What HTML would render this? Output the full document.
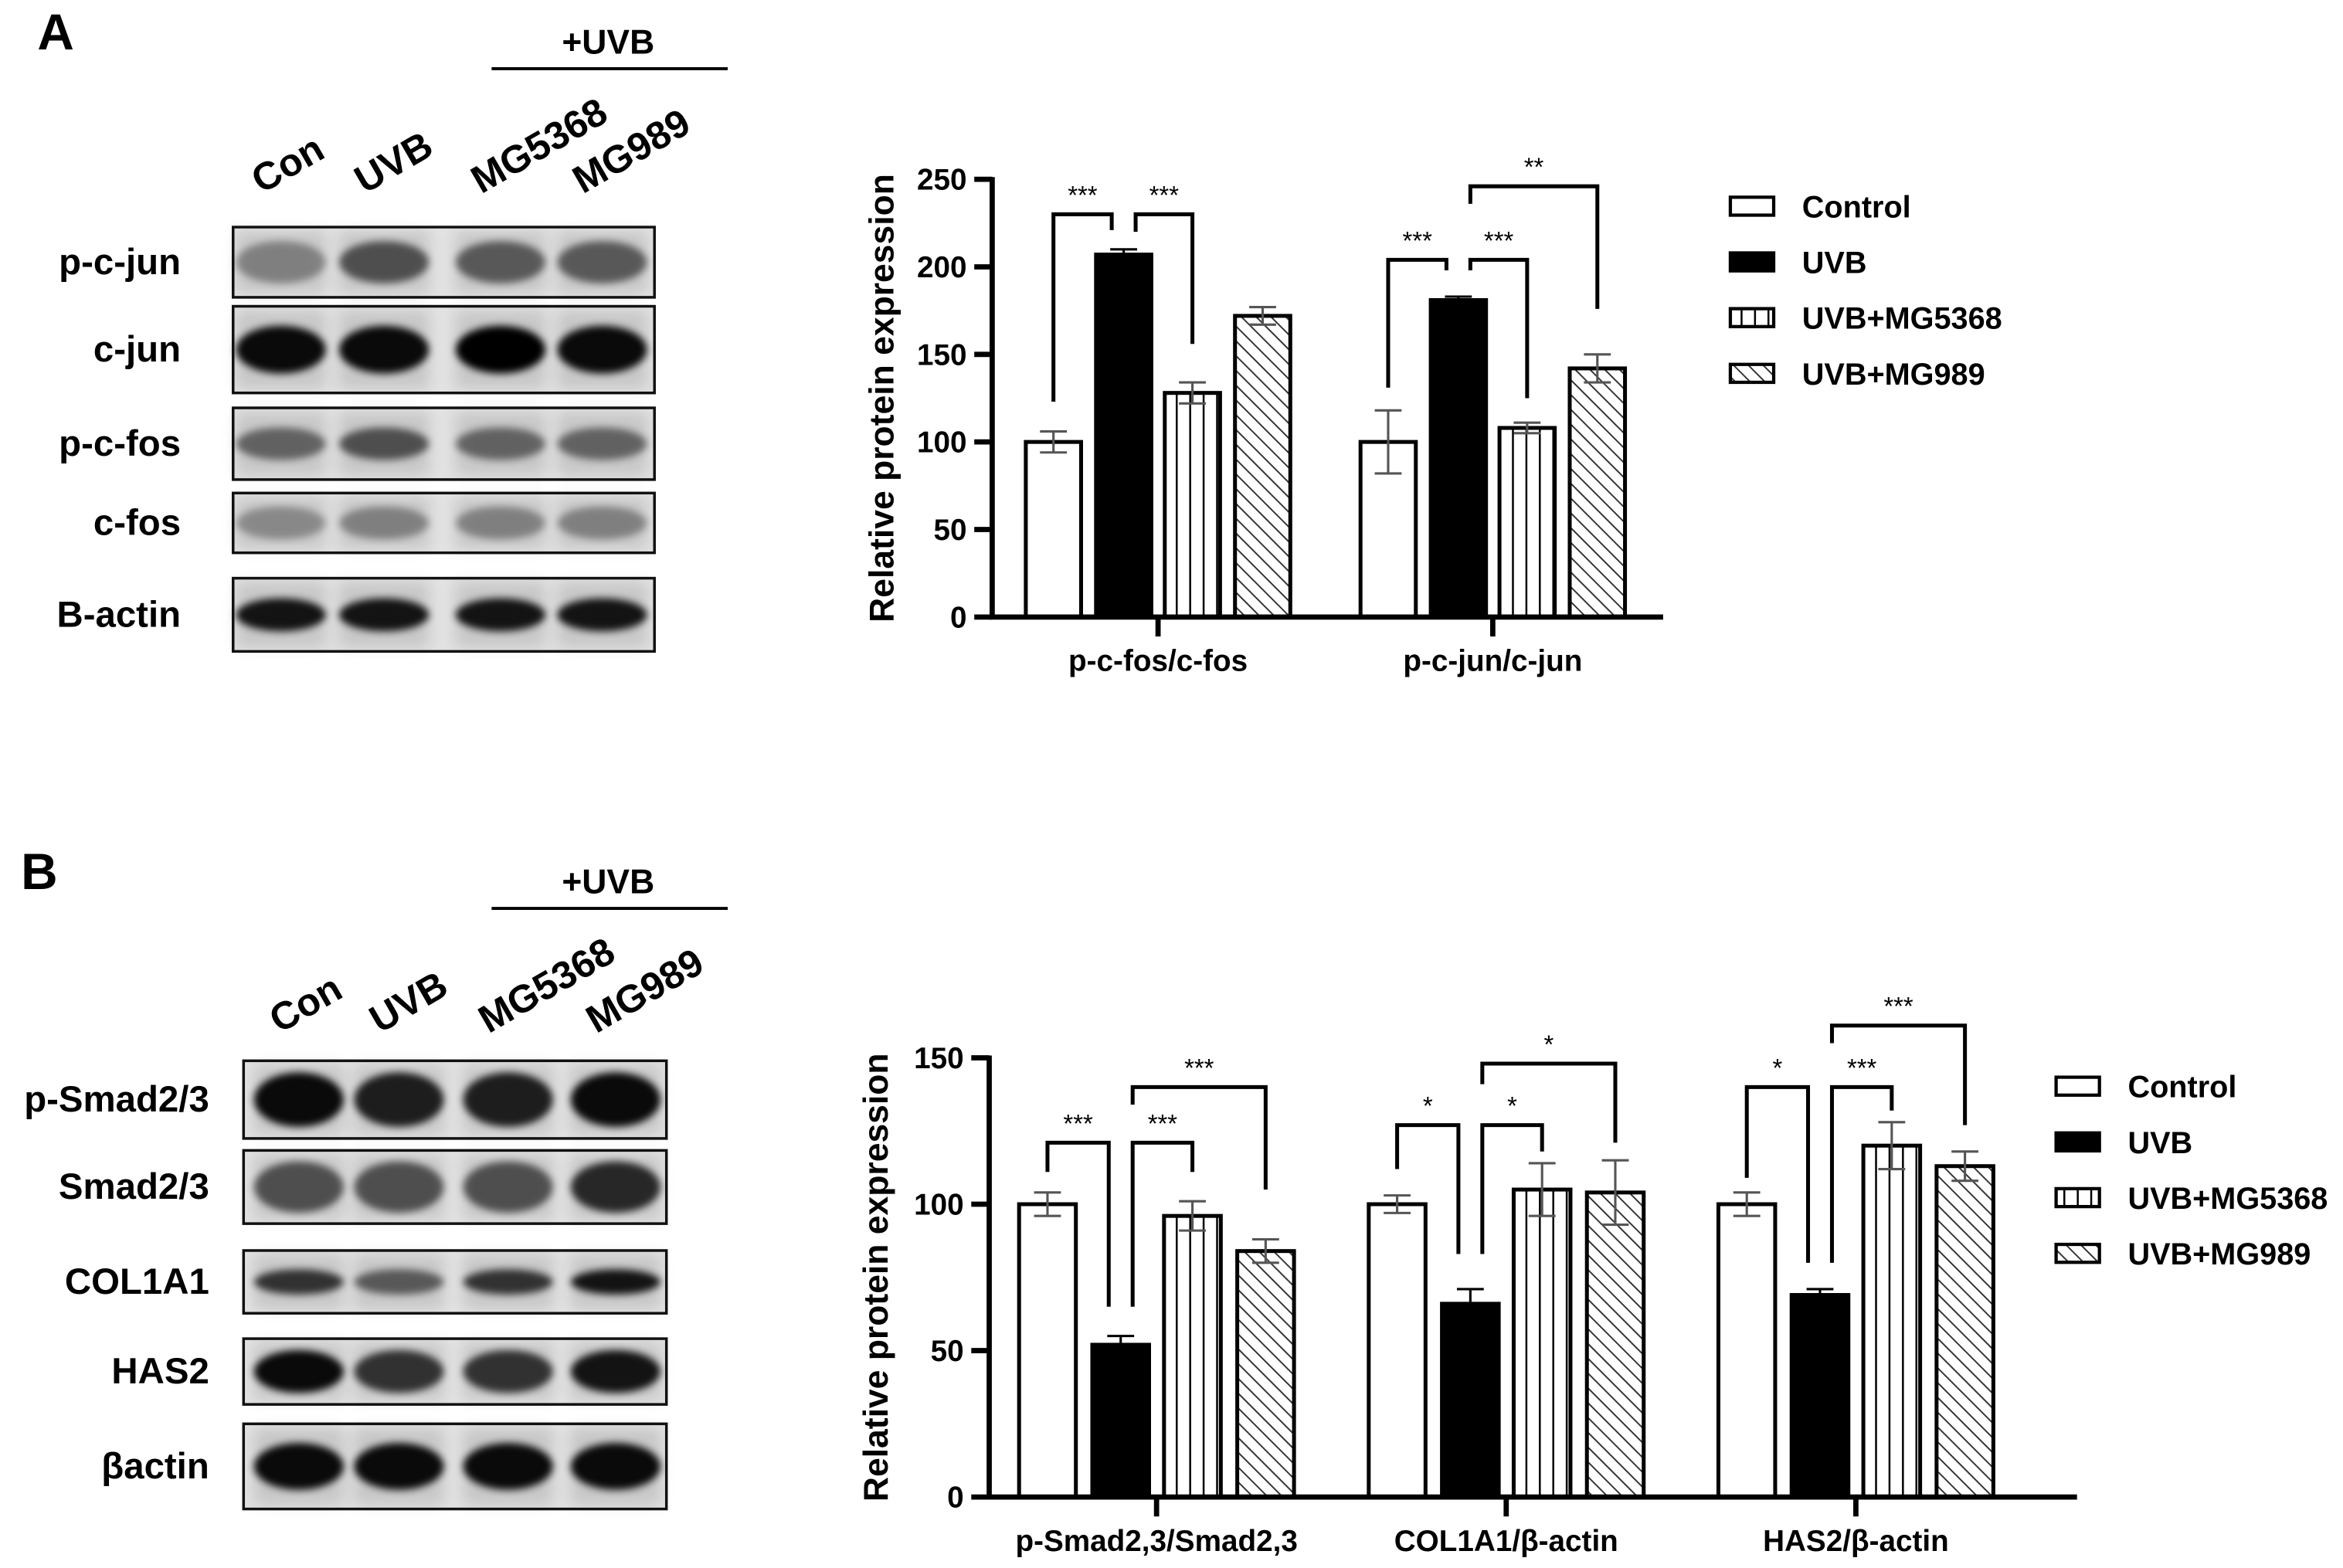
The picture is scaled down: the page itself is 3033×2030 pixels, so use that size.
<!DOCTYPE html>
<html><head><meta charset="utf-8"><style>
html,body{margin:0;padding:0;background:#fff;}
svg{display:block;font-family:"Liberation Sans",Arial,sans-serif;}
</style></head><body>
<svg id="fig" xmlns="http://www.w3.org/2000/svg" width="3033" height="2030" viewBox="0 0 1568 1049.5" preserveAspectRatio="none">
<defs>
<pattern id="vstripe" patternUnits="userSpaceOnUse" width="9" height="10"><rect width="9" height="10" fill="#fff"/><line x1="4.5" y1="0" x2="4.5" y2="10" stroke="#000" stroke-width="1.3"/></pattern>
<pattern id="dhatch" patternUnits="userSpaceOnUse" width="7" height="7" patternTransform="rotate(45)"><rect width="7" height="7" fill="#fff"/><line x1="0" y1="3.5" x2="7" y2="3.5" stroke="#333" stroke-width="1"/></pattern>
<filter id="blur" x="-50%" y="-50%" width="200%" height="200%"><feGaussianBlur stdDeviation="5"/></filter>
<filter id="blur2" x="-50%" y="-50%" width="200%" height="200%"><feGaussianBlur stdDeviation="2.5"/></filter>
</defs>
<g id="root"></g>
</svg>
<script>
// ---------- Chart A data ----------
const catsA = ["p-c-fos/c-fos", "p-c-jun/c-jun"];
const seriesNames = ["Control", "UVB", "UVB+MG5368", "UVB+MG989"];
const controlA = [100, 100];
const uvbA = [207, 181];
const mg5368A = [128, 108];
const mg989A = [172, 142];
const controlErrA = [6, 18];
const uvbErrA = [3, 2];
const mg5368ErrA = [6, 3];
const mg989ErrA = [5, 8];
const ticksA = [0, 50, 100, 150, 200, 250];
// brackets: [group, fromBar, toBar, topValue, leftEndValue, rightEndValue, label]
const bracketsA = [
  [0, 0, 1, 230, 123, 221, "***"],
  [0, 1, 2, 230, 220, 156, "***"],
  [1, 0, 1, 204, 131, 198, "***"],
  [1, 1, 2, 204, 198, 125, "***"],
  [1, 1, 3, 246, 236, 176, "**"]
];
// ---------- Chart B data ----------
const catsB = ["p-Smad2,3/Smad2,3", "COL1A1/\u03b2-actin", "HAS2/\u03b2-actin"];
const controlB = [100, 100, 100];
const uvbB = [52, 66, 69];
const mg5368B = [96, 105, 120];
const mg989B = [84, 104, 113];
const controlErrB = [4, 3, 4];
const uvbErrB = [3, 5, 2];
const mg5368ErrB = [5, 9, 8];
const mg989ErrB = [4, 11, 5];
const ticksB = [0, 50, 100, 150];
const bracketsB = [
  [0, 0, 1, 121, 111, 65, "***"],
  [0, 1, 2, 121, 65, 111, "***"],
  [0, 1, 3, 140, 134, 105, "***"],
  [1, 0, 1, 127, 112, 83, "*"],
  [1, 1, 2, 127, 83, 118, "*"],
  [1, 1, 3, 148, 141, 121, "*"],
  [2, 0, 1, 140, 109, 80, "*"],
  [2, 1, 2, 140, 80, 132, "***"],
  [2, 1, 3, 161, 155, 127, "***"]
];

const NS = "http://www.w3.org/2000/svg";
const root = document.getElementById('root');
function mk(tag, attrs, parent, text) {
  const e = document.createElementNS(NS, tag);
  for (const k in attrs) e.setAttribute(k, attrs[k]);
  if (text !== undefined) e.textContent = text;
  (parent || root).appendChild(e);
  return e;
}
const fills = ["#fff", "#000", "url(#vstripe)", "url(#dhatch)"];

function drawChart(cfg) {
  const g = mk('g', {});
  
  
  const yS = v => cfg.y0 - (v / cfg.vmax) * (cfg.y0 - cfg.yTop);
  const xC = i => cfg.gx0 + i * cfg.gstep;
  const barX = (i, j) => xC(i) + cfg.offs[j];
  const ya = mk('line', {x1: cfg.ax, y1: cfg.yTop - 1.5, x2: cfg.ax, y2: cfg.y0 + 1.5, stroke: '#000', 'stroke-width': 3.5}, g);
  
  
  cfg.ticks.forEach(t => {
    const tl = mk('line', {x1: cfg.ax - 12, y1: yS(t), x2: cfg.ax, y2: yS(t), stroke: '#000', 'stroke-width': 3.5}, g);
    
    
    const tx = mk('text', {x: cfg.ax - 17, y: yS(t) + 7, 'text-anchor': 'end', 'font-size': 20, 'font-weight': 'bold'}, g, String(t));
    
    
  });
  const yl = mk('text', {x: 0, y: 0, transform: `translate(${cfg.ylx},${(cfg.y0 + cfg.yTop) / 2}) rotate(-90)`, 'text-anchor': 'middle', 'font-size': 23, 'font-weight': 'bold'}, g, 'Relative protein expression');
  
  
  cfg.cats.forEach((c, i) => {
    cfg.series.forEach((s, j) => {
      const v = s[i], e = cfg.errs[j][i];
      const cx = barX(i, j);
      const r = mk('rect', {x: cx - cfg.bw / 2, y: yS(v), width: cfg.bw, height: cfg.y0 - yS(v), fill: fills[j], stroke: '#000', 'stroke-width': 2.6}, g);
      
      
      const ec = j === 1 ? '#000' : '#555';
      const el = mk('path', {d: `M${cx},${yS(v + e)}V${yS(v - e)}M${cx - 9},${yS(v + e)}H${cx + 9}M${cx - 9},${yS(v - e)}H${cx + 9}`, stroke: ec, 'stroke-width': 1.6, fill: 'none'}, g);
      
      
    });
    const ct = mk('line', {x1: xC(i), y1: cfg.y0, x2: xC(i), y2: cfg.y0 + 13, stroke: '#000', 'stroke-width': 3.5}, g);
    
    
    const cl = mk('text', {x: xC(i), y: cfg.y0 + 36, 'text-anchor': 'middle', 'font-size': 20, 'font-weight': 'bold'}, g, c);
    
    
  });
  const xa = mk('line', {x1: cfg.ax - 1.5, y1: cfg.y0, x2: cfg.axEnd, y2: cfg.y0, stroke: '#000', 'stroke-width': 3.5}, g);
  
  
  cfg.brackets.forEach(b => {
    const [gi, f, t, top, le, re, lab] = b;
    const lx = barX(gi, f) + (f === 1 ? 8 : 0);
    const rx = barX(gi, t) - (t === 1 ? 8 : 0);
    const p = mk('path', {d: `M${lx},${yS(le)}V${yS(top)}H${rx}V${yS(re)}`, stroke: '#000', 'stroke-width': 2.6, fill: 'none'}, g);
    
    
    const st = mk('text', {x: (lx + rx) / 2, y: yS(top) - 7, 'text-anchor': 'middle', 'font-size': 17}, g, lab);
    
    
  });
  seriesNames.forEach((n, j) => {
    const ly = cfg.legY + j * 37.3;
    const lr = mk('rect', {x: cfg.legX, y: ly - 6, width: 29, height: 12, fill: fills[j], stroke: '#000', 'stroke-width': 2.2}, g);
    
    
    const lt = mk('text', {x: cfg.legX + 48, y: ly + 7.5, 'font-size': 20.5, 'font-weight': 'bold'}, g, n);
    
    
  });
}

drawChart({name: 'chart-a', cats: catsA, series: [controlA, uvbA, mg5368A, mg989A], errs: [controlErrA, uvbErrA, mg5368ErrA, mg989ErrA],
  ticks: ticksA, vmax: 250, y0: 413, yTop: 120, ax: 664, axEnd: 1113, gx0: 775, gstep: 224, offs: [-70, -23, 23, 70], bw: 37,
  ylx: 598, brackets: bracketsA, legX: 1158, legY: 138});
drawChart({name: 'chart-b', cats: catsB, series: [controlB, uvbB, mg5368B, mg989B], errs: [controlErrB, uvbErrB, mg5368ErrB, mg989ErrB],
  ticks: ticksB, vmax: 150, y0: 1002, yTop: 708, ax: 662, axEnd: 1390, gx0: 774, gstep: 234, offs: [-73, -24, 24, 73], bw: 38,
  ylx: 594, brackets: bracketsB, legX: 1376, legY: 727});

// ---------- Western blots ----------
const laneLabels = ["Con", "UVB", "MG5368", "MG989"];
function drawBlot(cfg) {
  const g = mk('g', {});
  
  
  const pl = mk('text', {x: cfg.letterX, y: cfg.top + 33, 'font-size': 34, 'font-weight': 'bold'}, g, cfg.letter);
  
  
  const uv = mk('text', {x: 407, y: cfg.top + 36, 'text-anchor': 'middle', 'font-size': 23, 'font-weight': 'bold'}, g, '+UVB');
  
  
  const ul = mk('line', {x1: 329, y1: cfg.top + 46, x2: 487, y2: cfg.top + 46, stroke: '#000', 'stroke-width': 2}, g);
  
  
  laneLabels.forEach((l, k) => {
    const t = mk('text', {x: 0, y: 0, transform: `translate(${cfg.lanes[k] - 13},${cfg.top + 130}) rotate(-30)`, 'font-size': 26, 'font-weight': 'bold'}, g, l);
    
    
  });
  cfg.rows.forEach(r => {
    const [name, y1, y2, ints, shape] = r;
    const bg = mk('rect', {x: cfg.bx1, y: y1, width: cfg.bx2 - cfg.bx1, height: y2 - y1, fill: '#e2e2e2', stroke: 'none'}, g);
    
    
    const cy = (y1 + y2) / 2;
    ints.forEach((v, k) => {
      const sh = mk('rect', {x: cfg.lanes[k] - 30, y: y1 + 3, width: 60, height: y2 - y1 - 6, fill: '#000', opacity: 0.12, filter: 'url(#blur)'}, g);
      
      
      const bh = (y2 - y1) * shape;
      const e = mk('ellipse', {cx: cfg.lanes[k], cy: cy, rx: 30, ry: bh / 2, fill: '#000', opacity: v, filter: 'url(#blur2)'}, g);
      
      
    });
    const fr = mk('rect', {x: cfg.bx1, y: y1, width: cfg.bx2 - cfg.bx1, height: y2 - y1, fill: 'none', stroke: '#111', 'stroke-width': 1.8}, g);
    
    
    const rl = mk('text', {x: cfg.labX, y: cy + 8, 'text-anchor': 'end', 'font-size': 24.5, 'font-weight': 'bold'}, g, name);
    
    
  });
}
drawBlot({name: 'blot-a', letter: 'A', letterX: 25, top: 0, lanes: [188, 257, 335, 403], bx1: 156, bx2: 438, labX: 121,
  rows: [["p-c-jun", 152, 199, [0.35, 0.6, 0.55, 0.55], 0.6],
         ["c-jun", 205, 263, [0.95, 0.95, 1, 0.95], 0.55],
         ["p-c-fos", 273, 321, [0.5, 0.6, 0.5, 0.5], 0.45],
         ["c-fos", 330, 370, [0.3, 0.35, 0.35, 0.35], 0.55],
         ["B-actin", 387, 436, [0.9, 0.9, 0.9, 0.9], 0.45]]});
drawBlot({name: 'blot-b', letter: 'B', letterX: 14, top: 562, lanes: [200, 267, 340, 412], bx1: 163, bx2: 446, labX: 140,
  rows: [["p-Smad2/3", 710, 762, [0.95, 0.85, 0.85, 0.95], 0.7],
         ["Smad2/3", 770, 819, [0.6, 0.6, 0.6, 0.8], 0.7],
         ["COL1A1", 837, 879, [0.75, 0.55, 0.75, 0.9], 0.4],
         ["HAS2", 896, 940, [0.95, 0.75, 0.75, 0.9], 0.65],
         ["\u03b2actin", 953, 1010, [0.95, 0.95, 0.95, 0.95], 0.55]]});
</script>
</body></html>
